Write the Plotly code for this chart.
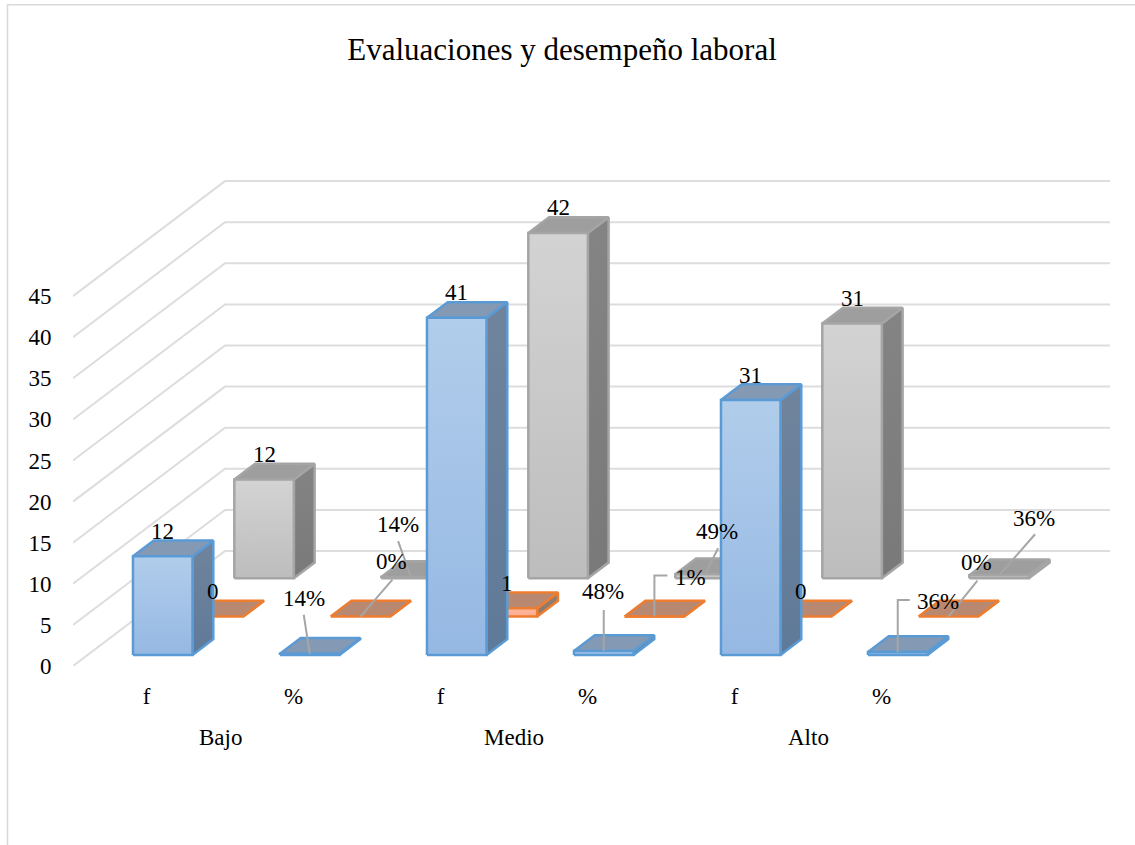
import plotly.graph_objects as go

# ---------- data ----------
groups = ["Bajo", "Medio", "Alto"]
categories = ["f", "%", "f", "%", "f", "%"]
serie_azul = [12, 0.14, 41, 0.48, 31, 0.36]
serie_naranja = [0, 0, 1, 0.01, 0, 0]
serie_gris = [12, 0.14, 42, 0.49, 31, 0.36]
value_ticks = [0, 5, 10, 15, 20, 25, 30, 35, 40, 45]
title = "Evaluaciones y desempeño laboral"

# ---------- oblique projection (category units, value units) ----------
PX_CAT = 147.0
PX_VAL = 8.22
ORIGIN_X, ORIGIN_Y = 73, 666
W, H = 1135, 845
DEPTH_X = 0.3447      # category units per depth row
DEPTH_Y = 4.663       # value units per depth row
GAP, BAR_W = 0.308, 0.405
ROW_GAP, ROW_D = 0.29, 0.41
X_END = 6.02
FONT = "Liberation Serif"
FS = 23


def proj(c, r, v):
    return c + DEPTH_X * r, v + DEPTH_Y * r


def poly(pts):
    pts = list(pts) + [pts[0]]
    return [p[0] for p in pts], [p[1] for p in pts]


fig = go.Figure()


def face(pts, line, fill=None, grad=None):
    xs, ys = poly(pts)
    kw = {}
    if grad:
        kw["fillgradient"] = dict(type="vertical", colorscale=[[0, grad[1]], [1, grad[0]]])
    else:
        kw["fillcolor"] = fill
    fig.add_trace(go.Scatter(x=xs, y=ys, mode="lines", fill="toself",
                             line=dict(color=line, width=2.5), hoverinfo="skip",
                             showlegend=False, **kw))


# grid
for t in value_ticks:
    a = proj(0, 0, t)
    b = proj(0, 3, t)
    c = proj(X_END, 3, t)
    fig.add_trace(go.Scatter(x=[a[0], b[0], c[0]], y=[a[1], b[1], c[1]], mode="lines",
                             line=dict(color="#DDDDDD", width=2), hoverinfo="skip",
                             showlegend=False))

series = [
    dict(vals=serie_gris, row=2, line="#A5A5A5", front=("#D3D3D3", "#BDBDBD"),
         side=("#848484", "#797979"), top="#9E9E9E",
         leaders={1: ((-13, -53), [(-13, -36)]),
                  3: ((12, -43), [(13, -26)]),
                  5: ((35, -57), [(36, -41)])}),
    dict(vals=serie_naranja, row=1, line="#ED7D31", front=("#FFB9A0", "#FFA88C"),
         side=("#8F7F73", "#8A7A6E"), top="#B88870",
         leaders={1: ((31, -55), [(32, -37)]),
                  3: ((36, -39), [(0, -41), (13, -41)]),
                  5: ((28, -54), [(29, -36)])}),
    dict(vals=serie_azul, row=0, line="#5B9BD5", front=("#B1CDEB", "#95B8E3"),
         side=("#70849C", "#5F7A99"), top="#8499B3",
         leaders={1: ((-6, -55), [(-6, -39)]),
                  3: ((-1, -59), [(0, -41)]),
                  5: ((40, -50), [(0, -52), (12, -52)])}),
]

annotations = []
for s in series:
    r0 = s["row"] + ROW_GAP
    r1 = r0 + ROW_D
    for i, v in enumerate(s["vals"]):
        c0 = i + GAP
        c1 = c0 + BAR_W
        # side, top, front
        face([proj(c1, r0, 0), proj(c1, r1, 0), proj(c1, r1, v), proj(c1, r0, v)],
             s["line"], grad=s["side"])
        face([proj(c0, r0, v), proj(c1, r0, v), proj(c1, r1, v), proj(c0, r1, v)],
             s["line"], fill=s["top"])
        if v > 0:
            face([proj(c0, r0, 0), proj(c1, r0, 0), proj(c1, r0, v), proj(c0, r0, v)],
                 s["line"], grad=s["front"])
        cm = (c0 + c1) / 2
        if i in s["leaders"]:
            (lx, ly), path = s["leaders"][i]
            ax, ay = proj(cm, r0, v)
            xs = [ax] + [ax + p[0] / PX_CAT for p in path]
            ys = [ay] + [ay - p[1] / PX_VAL for p in path]
            fig.add_trace(go.Scatter(x=xs, y=ys, mode="lines",
                                     line=dict(color="#A6A6A6", width=2),
                                     hoverinfo="skip", showlegend=False))
            annotations.append(dict(x=ax, y=ay, xref="x", yref="y", xshift=lx, yshift=-ly,
                                    text=f"{round(v * 100)}%", showarrow=False,
                                    font=dict(family=FONT, size=FS, color="#000000")))
        else:
            ax, ay = proj(cm, r0, v)
            annotations.append(dict(x=ax, y=ay, xref="x", yref="y", xshift=0, yshift=25,
                                    text=str(v), showarrow=False,
                                    font=dict(family=FONT, size=FS, color="#000000")))

for j, g in enumerate(groups):
    annotations.append(dict(x=2 * j + 1, y=0, xref="x", yref="paper", yshift=-71,
                            text=g, showarrow=False, yanchor="middle",
                            font=dict(family=FONT, size=FS, color="#000000")))

fig.update_layout(
    width=W, height=H,
    autosize=False,
    margin=dict(l=ORIGIN_X, r=0, t=0, b=H - ORIGIN_Y),
    paper_bgcolor="white", plot_bgcolor="rgba(0,0,0,0)",
    title=dict(text=title, x=562 / W, xanchor="center", y=1 - 49 / H, yanchor="middle",
               font=dict(family=FONT, size=31, color="#000000")),
    annotations=annotations,
    shapes=[dict(type="rect", xref="paper", yref="paper", layer="below",
                 x0=(7.5 - ORIGIN_X) / (W - ORIGIN_X), x1=1.02,
                 y0=-0.5, y1=(ORIGIN_Y - 4.7) / ORIGIN_Y,
                 line=dict(color="#D9D9D9", width=1.5))],
    xaxis=dict(range=[0, (W - ORIGIN_X) / PX_CAT], showgrid=False, zeroline=False, showline=False,
               tickmode="array", tickvals=[i + 0.5 for i in range(6)], ticktext=categories,
               ticks="outside", ticklen=9, tickcolor="rgba(0,0,0,0)",
               tickfont=dict(family=FONT, size=FS, color="#000000"), automargin=False),
    yaxis=dict(range=[0, ORIGIN_Y / PX_VAL], showgrid=False, zeroline=False, showline=False,
               tickmode="array", tickvals=value_ticks, ticktext=[str(t) for t in value_ticks],
               ticks="outside", ticklen=16, tickcolor="rgba(0,0,0,0)",
               tickfont=dict(family=FONT, size=FS, color="#000000"), automargin=False),
)

fig.write_html("out.html", config=dict(displayModeBar=False),
               post_script="document.body.style.margin='0';document.body.style.overflow='hidden';")
